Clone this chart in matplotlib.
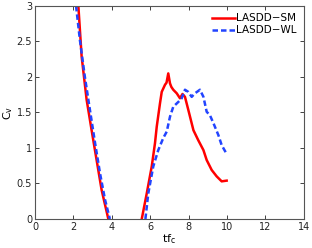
import matplotlib
matplotlib.use("Agg")
import matplotlib.pyplot as plt

# LASDD-SM (red solid)
sm_x1 = [2.26, 2.43, 2.69, 2.95, 3.21, 3.47, 3.82]
sm_y1 = [3.0, 2.29, 1.68, 1.25, 0.83, 0.41, 0.0]
sm_x2 = [5.56, 5.82, 6.08, 6.25, 6.34, 6.51, 6.60, 6.77, 6.85, 6.94, 7.03, 7.10, 7.20,
         7.38, 7.55, 7.68, 7.81, 7.98, 8.25, 8.50, 8.77, 8.94, 9.20, 9.46, 9.72, 9.98]
sm_y2 = [0.0, 0.36, 0.74, 1.07, 1.30, 1.63, 1.79, 1.89, 1.92, 2.05, 1.91, 1.86, 1.82,
         1.77, 1.70, 1.76, 1.72, 1.54, 1.25, 1.11, 0.97, 0.83, 0.69, 0.60, 0.53, 0.54]

# LASDD-WL (blue dashed)
wl_x1 = [2.14, 2.34, 2.60, 2.86, 3.13, 3.39, 3.65, 3.90]
wl_y1 = [3.0, 2.52, 2.0, 1.54, 1.07, 0.64, 0.27, 0.0]
wl_x2 = [5.75, 5.90, 6.16, 6.42, 6.68, 6.86, 7.03, 7.20, 7.47, 7.64, 7.81, 7.98, 8.16,
         8.33, 8.59, 8.77, 8.94, 9.11, 9.29, 9.55, 9.72, 9.95]
wl_y2 = [0.0, 0.36, 0.74, 0.97, 1.14, 1.23, 1.44, 1.58, 1.65, 1.70, 1.82, 1.79, 1.72,
         1.77, 1.82, 1.72, 1.51, 1.46, 1.35, 1.18, 1.04, 0.93]

fig = plt.figure(figsize=(3.12, 2.48), dpi=100)
ax = fig.add_axes([0.112, 0.117, 0.862, 0.859])

red = '#ff0000'
blue = '#2244ff'
ax.plot(sm_x1, sm_y1, color=red, lw=1.8, label='LASDD\u2212SM')
ax.plot(sm_x2, sm_y2, color=red, lw=1.8)
ax.plot(wl_x1, wl_y1, color=blue, lw=1.8, ls=(0, (2.2, 1.2)), label='LASDD\u2212WL')
ax.plot(wl_x2, wl_y2, color=blue, lw=1.8, ls=(0, (2.2, 1.2)))

ax.set_xlim(0, 14)
ax.set_ylim(0, 3)
ax.set_xticks(range(0, 15, 2))
ax.set_yticks([0, 0.5, 1, 1.5, 2, 2.5, 3])
ax.set_yticklabels(['0', '0.5', '1', '1.5', '2', '2.5', '3'])
ax.tick_params(direction='in', top=True, right=True, labelsize=7, length=3,
               width=0.6, pad=2, colors='#222222')
for s in ax.spines.values():
    s.set_linewidth(0.8)
    s.set_color('#555555')

ax.set_xlabel('tf$_{\\mathregular{c}}$', fontsize=8, labelpad=0)
ax.set_ylabel('C$_{\\mathregular{v}}$', fontsize=8, labelpad=1)

leg = ax.legend(loc='upper right', fontsize=7.5, frameon=False, handlelength=2.2,
                handletextpad=0.1, borderaxespad=0.3, labelspacing=0.2)

fig.savefig('out.png', dpi=100)
